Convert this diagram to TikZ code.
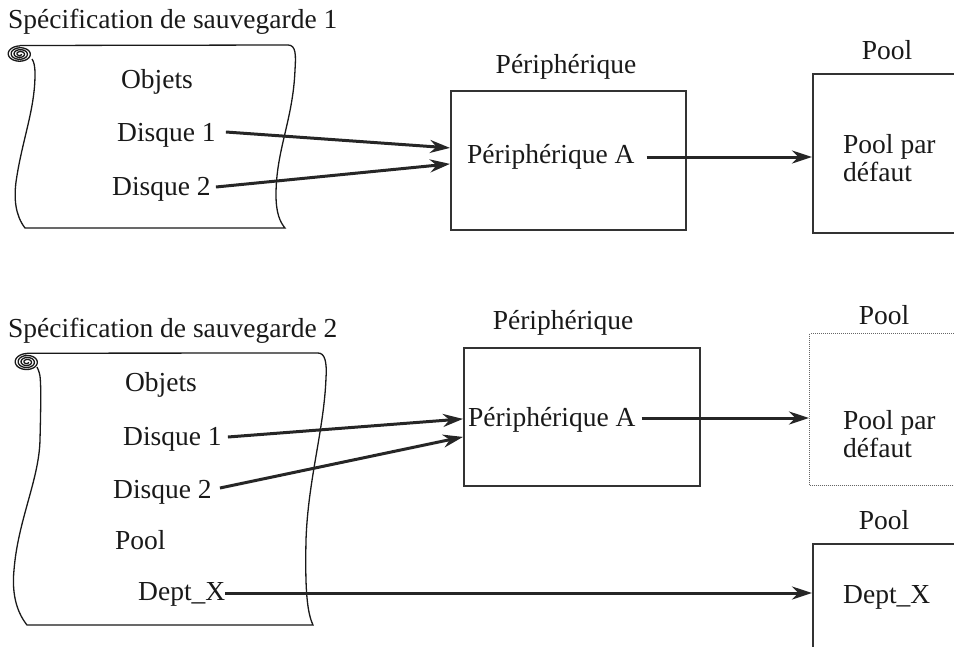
\documentclass[tikz,border=0pt]{standalone}
\usepackage{fontspec}
\setmainfont{Liberation Serif}
\usetikzlibrary{arrows.meta}
\begin{document}
\begin{tikzpicture}[x=1pt,y=-1pt,
  txt/.style={inner sep=0pt, font=\fontsize{27.5}{28}\selectfont, text=black!90},
  boxn/.style={draw=black!80, line width=1.8pt, rectangle, inner sep=0pt},
  scrollline/.style={draw=black!90, line width=1.3pt},
  arr/.style={draw=black!85, line width=3pt, -{Stealth[length=20pt,width=13pt]}}]
\path[use as bounding box] (0,0) rectangle (954,646);
\clip (0,0) rectangle (954,646);

% ---------- top scroll ----------
\draw[scrollline] plot[domain=0:1350, samples=160, smooth] ({20+(1.5+\x/1350*11)*cos(\x)},{54+(1.5+\x/1350*11)*0.65*sin(\x)});
\draw[scrollline] (20,45.5) -- (288,45) .. controls (296,45) and (296,55) .. (295,70)
  .. controls (293,120) and (276,150) .. (276,195)
  .. controls (276,213) and (280,222) .. (285,228) -- (25,228)
  .. controls (15,215) and (14,198) .. (16,182)
  .. controls (22,140) and (35,110) .. (35,74)
  .. controls (35,66) and (34,62) .. (32,59);

\node[txt, anchor=west] (t1) at (8,22) {Spécification de sauvegarde 1};
\node[txt] (o1) at (157,82) {Objets};
\node[txt, anchor=west] (d11) at (117,135) {Disque 1};
\node[txt, anchor=west] (d12) at (112,189) {Disque 2};

\node[boxn, anchor=north west, minimum width=235pt, minimum height=139pt] (per1) at (450,90) {};
\node[txt] (pl1) at (566,67) {Périphérique};
\node[txt, anchor=west] (pa1) at (467,157) {Périphérique A};

\node[boxn, anchor=north west, minimum width=200pt, minimum height=159pt] (pool1) at (812,73) {};
\node[txt] (plo1) at (887,50) {Pool};
\node[txt, anchor=north west, align=left] (pd1) at (843,134) {Pool par\\défaut};

\draw[arr] ([xshift=10pt,yshift=3pt]d11.east) -- ([yshift=12.5pt]per1.west);
\draw[arr] ([xshift=5pt,yshift=2pt]d12.east) -- ([yshift=-3.5pt]per1.west);
\draw[arr] ([xshift=12pt]pa1.east) -- (pa1.east -| pool1.west);

% ---------- bottom scroll ----------
\draw[scrollline] plot[domain=0:1350, samples=160, smooth] ({27+(1.5+\x/1350*11)*cos(\x)},{362+(1.5+\x/1350*11)*0.68*sin(\x)});
\draw[scrollline] (27,353.2) -- (318,353) .. controls (325,353) and (327,362) .. (326,378)
  .. controls (324,430) and (308,480) .. (306,540)
  .. controls (305,590) and (307,612) .. (313,625) -- (27,625)
  .. controls (15,610) and (12,590) .. (14,570)
  .. controls (18,520) and (39,480) .. (40,440)
  .. controls (41,400) and (41,385) .. (40,376)
  .. controls (39,371) and (38,369) .. (37,367);

\node[txt, anchor=west] (t2) at (8,331) {Spécification de sauvegarde 2};
\node[txt] (o2) at (161,385) {Objets};
\node[txt, anchor=west] (d21) at (123,439) {Disque 1};
\node[txt, anchor=west] (d22) at (113,492) {Disque 2};
\node[txt, anchor=west] (po2) at (115,540) {Pool};
\node[txt, anchor=west] (dx) at (138,594) {Dept\_X};

\node[boxn, anchor=north west, minimum width=236pt, minimum height=138pt] (per2) at (463,347) {};
\node[txt] (pl2) at (563,323) {Périphérique};
\node[txt, anchor=west] (pa2) at (468,420) {Périphérique A};

\node[draw=black!60, line width=1.3pt, dash pattern=on 1pt off 1pt, rectangle, inner sep=0pt,
  anchor=north west, minimum width=200pt, minimum height=152pt] (pool2) at (809,333) {};
\node[txt] (plo2) at (884,315) {Pool};
\node[txt, anchor=north west, align=left] (pd2) at (843,410) {Pool par\\défaut};

\node[boxn, anchor=north west, minimum width=200pt, minimum height=200pt] (pool3) at (812,543) {};
\node[txt] (plo3) at (884,520) {Pool};
\node[txt, anchor=west] (dx3) at (843,597) {Dept\_X};

\draw[arr] ([xshift=6pt,yshift=2pt]d21.east) -- ([yshift=-2pt]per2.west);
\draw[arr] ([xshift=8pt,yshift=4pt]d22.east) -- ([yshift=-20pt]per2.west);
\draw[arr] ([xshift=6pt,yshift=2pt]pa2.east) -- ([yshift=2pt]pa2.east -| pool2.west);
\draw[arr] ([yshift=1pt]dx.east) -- ([yshift=1pt]dx.east -| pool3.west);
\end{tikzpicture}
\end{document}
